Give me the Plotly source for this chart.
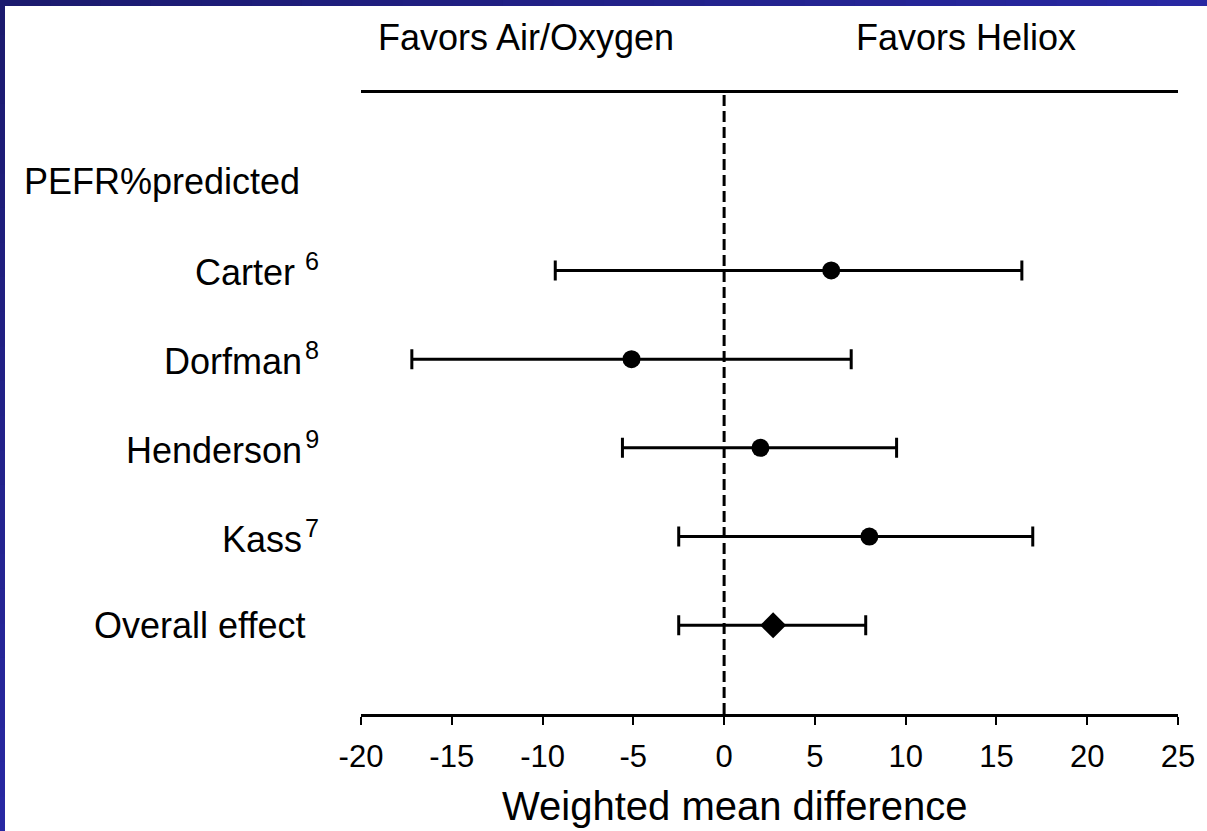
import plotly.graph_objects as go

# Study-level results (weighted mean difference with 95% CI)
studies = ["Carter", "Dorfman", "Henderson", "Kass"]
study_refs = ["6", "8", "9", "7"]
study_wmd = [5.9, -5.1, 2.0, 8.0]
study_lower = [-9.3, -17.2, -5.6, -2.5]
study_upper = [16.4, 7.0, 9.5, 17.0]

# Pooled estimate
overall_label = "Overall effect"
overall_wmd = 2.7
overall_lower = -2.5
overall_upper = 7.8

subgroup_label = "PEFR%predicted"
x_ticks = [-20, -15, -10, -5, 0, 5, 10, 15, 20, 25]
side_labels = ["Favors Air/Oxygen", "Favors Heliox"]
x_title = "Weighted mean difference"

# Figure geometry (pixels)
W, H = 1207, 831
ML, MR, MT, MB = 361, 29, 93, 117
PW, PH = W - ML - MR, H - MT - MB


def px_x(px):
    return (px - ML) / PW


def px_y(py):
    return (H - MB - py) / PH


FONT = "Liberation Sans, Arial, sans-serif"
ink = "#000000"

study_rows = [i + 1 for i in range(len(studies))]
overall_row = len(studies) + 1

fig = go.Figure()

fig.add_trace(go.Scatter(
    x=study_wmd, y=study_rows, mode="markers",
    marker=dict(symbol="circle", size=18, color=ink),
    error_x=dict(type="data", symmetric=False,
                 array=[u - m for u, m in zip(study_upper, study_wmd)],
                 arrayminus=[m - l for m, l in zip(study_wmd, study_lower)],
                 color=ink, thickness=3, width=10),
    showlegend=False, hoverinfo="skip",
))

fig.add_trace(go.Scatter(
    x=[overall_wmd], y=[overall_row], mode="markers",
    marker=dict(symbol="diamond", size=20, color=ink),
    error_x=dict(type="data", symmetric=False,
                 array=[overall_upper - overall_wmd],
                 arrayminus=[overall_wmd - overall_lower],
                 color=ink, thickness=3, width=10),
    showlegend=False, hoverinfo="skip",
))

shapes = []
# dashed line of no effect
shapes.append(dict(type="line", xref="x", yref="paper", x0=0, x1=0, y0=0, y1=1,
                   line=dict(color=ink, width=3, dash="11px,5px"), layer="below"))


# slide frame: dark blue strips along top and left edges
def lerp(c1, c2, t):
    return "rgb(%d,%d,%d)" % tuple(round(a + (b - a) * t) for a, b in zip(c1, c2))


dark, light = (27, 26, 110), (40, 40, 162)
n = 24
for i in range(n):
    shapes.append(dict(type="rect", xref="paper", yref="paper",
                       x0=px_x(W * i / n), x1=px_x(W * (i + 1) / n + 1),
                       y0=px_y(6), y1=px_y(0),
                       fillcolor=lerp(dark, light, i / (n - 1)), line=dict(width=0), layer="above"))
    shapes.append(dict(type="rect", xref="paper", yref="paper",
                       x0=px_x(0), x1=px_x(5),
                       y0=px_y(H * (i + 1) / n + 1), y1=px_y(H * i / n),
                       fillcolor=lerp(dark, light, i / (n - 1)), line=dict(width=0), layer="above"))

annotations = []
annotations.append(dict(text=subgroup_label, xref="paper", yref="y", x=px_x(22), y=0,
                        xanchor="left", yanchor="middle", showarrow=False,
                        font=dict(family=FONT, size=36, color=ink)))
for name, ref, row in zip(studies, study_refs, study_rows):
    sep = " " if name == "Carter" else "&#8202;"
    annotations.append(dict(text=f"{name}{sep}<sup>{ref}</sup>", xref="paper", yref="y",
                            x=px_x(321), y=row, xanchor="right", yanchor="middle",
                            showarrow=False, font=dict(family=FONT, size=36, color=ink)))
annotations.append(dict(text=overall_label, xref="paper", yref="y", x=px_x(307), y=overall_row,
                        xanchor="right", yanchor="middle", showarrow=False,
                        font=dict(family=FONT, size=36, color=ink)))
for label, xc in zip(side_labels, [-10.9, 13.3]):
    annotations.append(dict(text=label, xref="x", yref="paper", x=xc, y=px_y(37),
                            xanchor="center", yanchor="middle", showarrow=False,
                            font=dict(family=FONT, size=36, color=ink)))
annotations.append(dict(text=x_title, xref="paper", yref="paper", x=px_x(735), y=px_y(806),
                        xanchor="center", yanchor="middle", showarrow=False,
                        font=dict(family=FONT, size=40, color=ink)))

fig.update_layout(
    width=W, height=H,
    margin=dict(l=ML, r=MR, t=MT, b=MB, pad=0),
    paper_bgcolor="white", plot_bgcolor="white",
    shapes=shapes, annotations=annotations,
    xaxis=dict(range=[-20, 25], tickvals=x_ticks, ticktext=[str(v) for v in x_ticks],
               showgrid=False, zeroline=False,
               showline=True, linecolor=ink, linewidth=3, mirror=True,
               ticks="outside", ticklen=8, tickwidth=2, tickcolor=ink,
               ticklabelstandoff=5,
               tickfont=dict(family=FONT, size=31, color=ink)),
    yaxis=dict(range=[6, -1], showgrid=False, zeroline=False, showline=False,
               showticklabels=False, ticks=""),
)

fig.write_html("out.html")
